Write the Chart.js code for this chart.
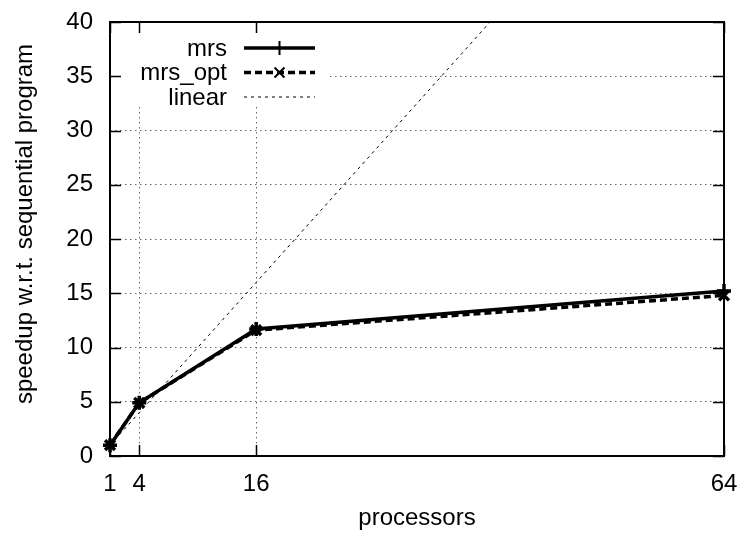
<!DOCTYPE html>
<html><head><meta charset="utf-8">
<script src="https://cdn.jsdelivr.net/npm/chart.js@4/dist/chart.umd.min.js"></script>
<style>html,body{margin:0;padding:0;background:#fff}#wrap{width:744px;height:537px}</style>
</head><body><div id="wrap"><canvas id="c" width="744" height="537"></canvas></div>
<script>
const processors = [1, 4, 16, 64];
const mrsSpeedup = [1.0, 4.9, 11.7, 15.2];
const mrsOptSpeedup = [1.0, 4.9, 11.6, 14.8];
const linearSpeedup = [1, 4, 16, 64];
const xTickLabels = ['1', '4', '16', '64'];
const yTickValues = [0, 5, 10, 15, 20, 25, 30, 35, 40];
const seriesNames = ['mrs', 'mrs_opt', 'linear'];
const xTitle = 'processors';
const yTitle = 'speedup w.r.t. sequential program';

const FONT = '"Liberation Sans", Arial, sans-serif';
const FSIZE = 24;

function toXY(xs, ys) { return xs.map((x, i) => ({x: x, y: ys[i]})); }

const gnuplotPlugin = {
  id: 'gnuplotStyle',
  beforeDatasetsDraw(chart) {
    const ctx = chart.ctx, a = chart.chartArea;
    ctx.save();
    ctx.fillStyle = '#fff';
    ctx.fillRect(a.left + 1, a.top + 1, 218, 83);
    ctx.restore();
  },
  afterDatasetsDraw(chart) {
    const ctx = chart.ctx, a = chart.chartArea;
    const xs = chart.scales.x, ys = chart.scales.y;
    ctx.save();
    ctx.strokeStyle = '#000';
    ctx.lineWidth = 1.5;
    ctx.beginPath();
    xs.ticks.forEach(t => {
      const px = Math.round(xs.getPixelForValue(t.value)) + 0.5;
      ctx.moveTo(px, a.bottom); ctx.lineTo(px, a.bottom - 11);
      ctx.moveTo(px, a.top); ctx.lineTo(px, a.top + 11);
    });
    ys.ticks.forEach(t => {
      const py = Math.round(ys.getPixelForValue(t.value)) + 0.5;
      ctx.moveTo(a.left, py); ctx.lineTo(a.left + 11, py);
      ctx.moveTo(a.right, py); ctx.lineTo(a.right - 11, py);
    });
    ctx.stroke();
    ctx.lineWidth = 2;
    ctx.strokeRect(a.left, a.top, a.right - a.left, a.bottom - a.top);

    // legend (gnuplot key style)
    const rowY0 = a.top + 26, rowH = 24.5;
    const textRight = a.left + 117, sx0 = a.left + 134, sx1 = a.left + 205, mx = (sx0 + sx1) / 2;
    ctx.font = FSIZE + 'px ' + FONT;
    ctx.fillStyle = '#000';
    ctx.textAlign = 'right';
    ctx.textBaseline = 'middle';
    chart.data.datasets.forEach((ds, i) => {
      const y = rowY0 + i * rowH;
      ctx.fillText(ds.label, textRight, y + 1);
      ctx.save();
      ctx.lineWidth = ds.borderWidth;
      ctx.setLineDash(ds.borderDash || []);
      ctx.beginPath(); ctx.moveTo(sx0, y); ctx.lineTo(sx1, y); ctx.stroke();
      ctx.restore();
      if (ds.pointRadius > 0) {
        Chart.helpers.drawPoint(ctx, {pointStyle: ds.pointStyle, radius: ds.pointRadius, rotation: 0, borderWidth: ds.pointBorderWidth}, mx, y);
      }
    });
    ctx.restore();
  },
  afterDraw(chart) {
    const ctx = chart.ctx, a = chart.chartArea;
    ctx.save();
    ctx.font = FSIZE + 'px ' + FONT;
    ctx.fillStyle = '#000';
    ctx.textAlign = 'center';
    ctx.textBaseline = 'middle';
    ctx.fillText(xTitle, (a.left + a.right) / 2, 518);
    ctx.translate(25, 224);
    ctx.rotate(-Math.PI / 2);
    ctx.fillText(yTitle, 0, 0);
    ctx.restore();
  }
};

new Chart(document.getElementById('c'), {
  type: 'line',
  data: {
    datasets: [
      {label: seriesNames[0], data: toXY(processors, mrsSpeedup), borderColor: '#000', backgroundColor: '#000',
       borderWidth: 3.5, pointStyle: 'cross', pointRadius: 7, pointBorderWidth: 3.5, pointBorderColor: '#000', clip: false, tension: 0},
      {label: seriesNames[1], data: toXY(processors, mrsOptSpeedup), borderColor: '#000', backgroundColor: '#000',
       borderWidth: 3.5, borderDash: [7, 4], pointStyle: 'crossRot', pointRadius: 7, pointBorderWidth: 3.5, pointBorderColor: '#000', clip: false, tension: 0},
      {label: seriesNames[2], data: toXY(processors, linearSpeedup), borderColor: '#000',
       borderWidth: 1, borderDash: [3, 4], pointRadius: 0, tension: 0}
    ]
  },
  options: {
    responsive: false,
    animation: false,
    devicePixelRatio: 1,
    layout: {padding: {top: 22, right: 20, left: 0, bottom: 0}},
    plugins: {legend: {display: false}, tooltip: {enabled: false}},
    scales: {
      x: {
        type: 'linear', min: 1, max: 64,
        afterBuildTicks: s => { s.ticks = processors.map(v => ({value: v})); },
        afterFit: s => { s.height = 81; s.paddingLeft = 0; s.paddingRight = 0; },
        ticks: {autoSkip: false, maxRotation: 0, color: '#000', padding: 14,
                font: {family: FONT, size: FSIZE},
                callback: v => xTickLabels[processors.indexOf(v)]},
        grid: {color: '#666', lineWidth: 1, drawTicks: false},
        border: {display: false, dash: [1.5, 3.5]}
      },
      y: {
        min: 0, max: 40,
        afterBuildTicks: s => { s.ticks = yTickValues.map(v => ({value: v})); },
        afterFit: s => { s.width = 110; s.paddingTop = 0; s.paddingBottom = 0; },
        ticks: {color: '#000', padding: 17, font: {family: FONT, size: FSIZE}},
        grid: {color: '#666', lineWidth: 1, drawTicks: false},
        border: {display: false, dash: [1.5, 3.5]}
      }
    }
  },
  plugins: [gnuplotPlugin]
});
</script>
</body></html>
